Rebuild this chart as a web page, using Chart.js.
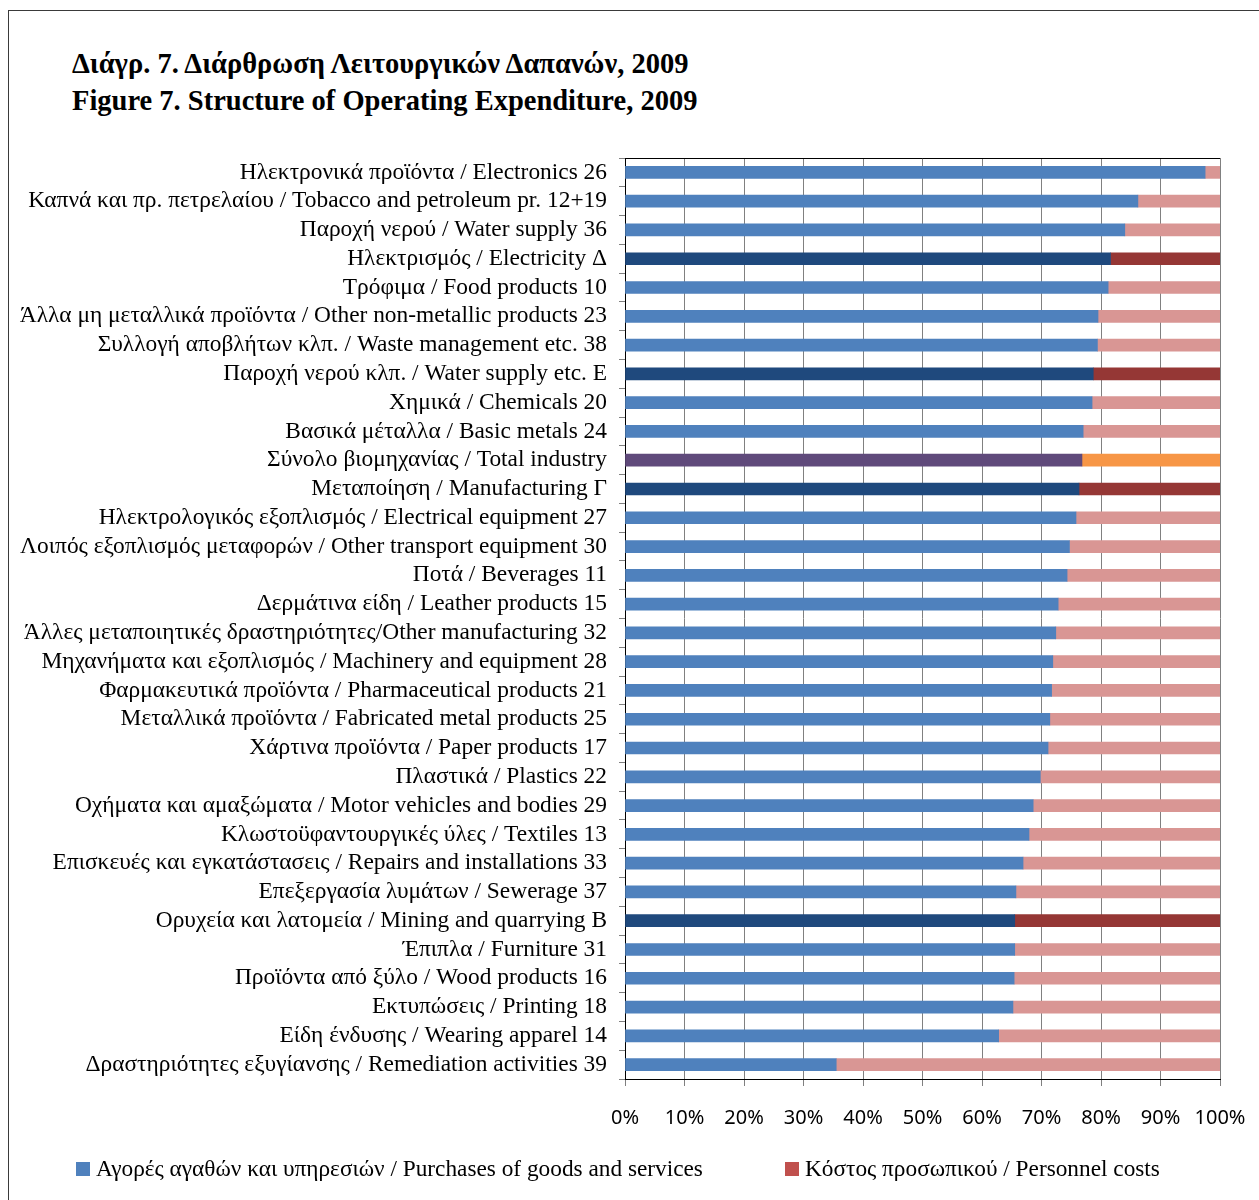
<!DOCTYPE html>
<html>
<head>
<meta charset="utf-8">
<script src="https://cdn.jsdelivr.net/npm/chart.js@4/dist/chart.umd.min.js"></script>
<style>
  html, body { margin:0; padding:0; background:#fff; }
  body { width:1259px; height:1200px; position:relative; overflow:hidden; }
  #frame { position:absolute; left:8px; top:10px; width:1400px; height:1400px; border:1.5px solid #3a3a3a; box-sizing:border-box; }
  .title { position:absolute; left:72px; font-family:"Liberation Serif","Times New Roman",serif; font-weight:bold; font-size:28.5px; color:#000; white-space:nowrap; }
  #wrap { position:absolute; left:0; top:0; width:1259px; height:1200px; }
  .leg { position:absolute; top:1155px; font-family:"Liberation Serif","Times New Roman",serif; font-size:23.3px; color:#000; white-space:nowrap; line-height:26px; }
  .leg span.box { display:inline-block; width:14px; height:14px; margin-right:6px; vertical-align:0px; }
</style>
</head>
<body>
<div id="frame"></div>
<div class="title" style="top:48px">Διάγρ. 7. Διάρθρωση Λειτουργικών Δαπανών, 2009</div>
<div class="title" style="top:85px">Figure 7. Structure of Operating Expenditure, 2009</div>
<div id="wrap"><canvas id="c" width="1259" height="1200"></canvas></div>
<div class="leg" style="left:76px"><span class="box" style="background:#4F81BD"></span>Αγορές αγαθών και υπηρεσιών / Purchases of goods and services</div>
<div class="leg" style="left:785px"><span class="box" style="background:#C0504D"></span>Κόστος προσωπικού / Personnel costs</div>
<script>
const categories = [
  "Ηλεκτρονικά προϊόντα / Electronics 26",
  "Καπνά και πρ. πετρελαίου / Tobacco and petroleum pr. 12+19",
  "Παροχή νερού / Water supply 36",
  "Ηλεκτρισμός / Electricity Δ",
  "Τρόφιμα / Food products 10",
  "Άλλα μη μεταλλικά προϊόντα / Other non-metallic products 23",
  "Συλλογή αποβλήτων κλπ. / Waste management etc. 38",
  "Παροχή νερού κλπ. / Water supply etc. E",
  "Χημικά / Chemicals 20",
  "Βασικά μέταλλα / Basic metals 24",
  "Σύνολο βιομηχανίας / Total industry",
  "Μεταποίηση / Manufacturing Γ",
  "Ηλεκτρολογικός εξοπλισμός / Electrical equipment 27",
  "Λοιπός εξοπλισμός μεταφορών / Other transport equipment 30",
  "Ποτά / Beverages 11",
  "Δερμάτινα είδη / Leather products 15",
  "Άλλες μεταποιητικές δραστηριότητες/Other manufacturing 32",
  "Μηχανήματα και εξοπλισμός / Machinery and equipment 28",
  "Φαρμακευτικά προϊόντα / Pharmaceutical products 21",
  "Μεταλλικά προϊόντα / Fabricated metal products 25",
  "Χάρτινα προϊόντα / Paper products 17",
  "Πλαστικά / Plastics 22",
  "Οχήματα και αμαξώματα / Motor vehicles and bodies 29",
  "Κλωστοϋφαντουργικές ύλες / Textiles 13",
  "Επισκευές και εγκατάστασεις / Repairs and installations 33",
  "Επεξεργασία λυμάτων / Sewerage 37",
  "Ορυχεία και λατομεία / Mining and quarrying B",
  "Έπιπλα / Furniture 31",
  "Προϊόντα από ξύλο / Wood products 16",
  "Εκτυπώσεις / Printing 18",
  "Είδη ένδυσης / Wearing apparel 14",
  "Δραστηριότητες εξυγίανσης / Remediation activities 39"
];
const purchases = [97.5, 86.2, 84.0, 81.6, 81.2, 79.5, 79.4, 78.7, 78.5, 77.0, 76.8, 76.3, 75.8, 74.7, 74.3, 72.8,
                   72.4, 71.9, 71.7, 71.4, 71.1, 69.8, 68.6, 67.9, 66.9, 65.7, 65.5, 65.5, 65.4, 65.2, 62.8, 35.5];
const personnel = [2.5, 13.8, 16.0, 18.4, 18.8, 20.5, 20.6, 21.3, 21.5, 23.0, 23.2, 23.7, 24.2, 25.3, 25.7, 27.2,
                   27.6, 28.1, 28.3, 28.6, 28.9, 30.2, 31.4, 32.1, 33.1, 34.3, 34.5, 34.5, 34.6, 34.8, 37.2, 64.5];
const rowType = ["sub","sub","sub","sector","sub","sub","sub","sector","sub","sub","total","sector","sub","sub","sub","sub",
                 "sub","sub","sub","sub","sub","sub","sub","sub","sub","sub","sector","sub","sub","sub","sub","sub"];
const xTickLabels = ["0%","10%","20%","30%","40%","50%","60%","70%","80%","90%","100%"];
const seriesNames = ["Αγορές αγαθών και υπηρεσιών / Purchases of goods and services", "Κόστος προσωπικού / Personnel costs"];

const purchColor = {sub:"#4F81BD", sector:"#1F497D", total:"#604A7B"};
const persColor = {sub:"#D99694", sector:"#953735", total:"#F79646"};

const frameTop = {
  id:'frameTop',
  afterDatasetsDraw(chart){
    const a = chart.chartArea, ctx = chart.ctx;
    ctx.save();
    ctx.strokeStyle = '#000'; ctx.lineWidth = 1;
    ctx.beginPath(); ctx.moveTo(a.left, a.top+0.5); ctx.lineTo(a.right, a.top+0.5); ctx.stroke();
    ctx.restore();
  }
};

new Chart(document.getElementById('c'), {
  type:'bar',
  data:{
    labels:categories,
    datasets:[
      {label:seriesNames[0], data:purchases, backgroundColor:rowType.map(t=>purchColor[t]), barThickness:12, borderWidth:0},
      {label:seriesNames[1], data:personnel, backgroundColor:rowType.map(t=>persColor[t]), barThickness:12, borderWidth:0}
    ]
  },
  options:{
    indexAxis:'y',
    responsive:false,
    animation:false,
    layout:{padding:{left:0, right:0, top:158, bottom:0}},
    plugins:{legend:{display:false}, tooltip:{enabled:false}, title:{display:false}},
    scales:{
      x:{
        stacked:true, min:0, max:100,
        ticks:{stepSize:10, color:'#000', font:{family:'"Noto Sans", "Open Sans", sans-serif', size:20}, padding:20,
               callback:(v,i)=>xTickLabels[i]},
        grid:{color:'#808080', lineWidth:1, tickLength:7, drawTicks:true},
        border:{color:'#000', width:1},
        afterFit(s){ s.height = 121; s.paddingRight = 39; }
      },
      y:{
        stacked:true,
        ticks:{color:'#000', font:{family:'"Liberation Serif", "Times New Roman", serif', size:23.4}, padding:12, autoSkip:false},
        grid:{offset:true, drawOnChartArea:false, drawTicks:true, tickLength:6, color:'#808080'},
        border:{color:'#000', width:1},
        afterFit(s){ s.width = 625; }
      }
    }
  },
  plugins:[frameTop]
});
</script>
</body>
</html>
